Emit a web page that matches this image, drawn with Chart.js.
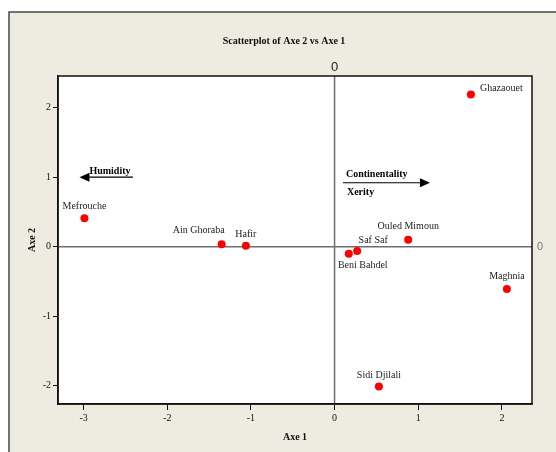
<!DOCTYPE html>
<html>
<head>
<meta charset="utf-8">
<script src="https://cdn.jsdelivr.net/npm/chart.js@4.4.1/dist/chart.umd.min.js"></script>
<style>
  html, body { margin: 0; padding: 0; background: #ffffff; }
  canvas { display: block; }
</style>
</head>
<body>
<canvas id="chart" width="556" height="452"></canvas>
<script>
// Station scores on the first two axes
const stations = ['Ghazaouet', 'Mefrouche', 'Ain Ghoraba', 'Hafir', 'Beni Bahdel',
                  'Saf Saf', 'Ouled Mimoun', 'Maghnia', 'Sidi Djilali'];
const axe1 = [1.63, -2.99, -1.35, -1.06, 0.17, 0.27, 0.88, 2.06, 0.53];
const axe2 = [2.19, 0.41, 0.035, 0.015, -0.10, -0.06, 0.10, -0.61, -2.01];

const xTicks = [-3, -2, -1, 0, 1, 2];
const yTicks = [-2, -1, 0, 1, 2];

// Gradient arrows: [label lines, x start, x end, y]
const gradients = [
  { lines: ['Humidity'], from: -2.41, to: -3.05, at: 1.0 },
  { lines: ['Continentality', 'Xerity'], from: 0.10, to: 1.14, at: 0.92 }
];

// Where each station name sits relative to its dot (pixels)
const labelPlacement = {
  'Ghazaouet':    { dx: 9,   dy: -6,  align: 'left' },
  'Mefrouche':    { dx: 0,   dy: -12, align: 'center' },
  'Ain Ghoraba':  { dx: 3,   dy: -14, align: 'right' },
  'Hafir':        { dx: 0,   dy: -11, align: 'center' },
  'Beni Bahdel':  { dx: 14,  dy: 12,  align: 'center' },
  'Saf Saf':      { dx: 16,  dy: -11, align: 'center' },
  'Ouled Mimoun': { dx: 0,   dy: -13, align: 'center' },
  'Maghnia':      { dx: 0,   dy: -13, align: 'center' },
  'Sidi Djilali': { dx: 0,   dy: -11, align: 'center' }
};

const SERIF = '"Liberation Serif", "Times New Roman", serif';
const SANS = '"Liberation Sans", Arial, sans-serif';

const decor = {
  id: 'decor',
  beforeDraw(chart) {
    const { ctx, chartArea: a } = chart;
    ctx.save();
    ctx.fillStyle = '#ffffff';
    ctx.fillRect(0, 0, chart.width, chart.height);
    // page frame
    ctx.fillStyle = '#eeebe1';
    ctx.fillRect(9, 12, chart.width, chart.height);
    ctx.strokeStyle = '#4a4a4a';
    ctx.lineWidth = 1.5;
    ctx.strokeRect(9, 12, chart.width + 10, chart.height + 10);
    // plot area
    ctx.fillStyle = '#ffffff';
    ctx.fillRect(a.left, a.top, a.right - a.left, a.bottom - a.top);
    // title
    ctx.fillStyle = '#111';
    ctx.font = 'bold 10px ' + SERIF;
    ctx.textAlign = 'center';
    ctx.textBaseline = 'middle';
    ctx.fillText('Scatterplot of Axe 2 vs Axe 1', 284, 41);
    ctx.restore();
  },
  beforeDatasetsDraw(chart) {
    const { ctx, chartArea: a, scales: { x, y } } = chart;
    const x0 = x.getPixelForValue(0);
    const y0 = y.getPixelForValue(0);
    ctx.save();
    // reference lines through the origin
    ctx.strokeStyle = '#6e6e6e';
    ctx.lineWidth = 1.5;
    ctx.beginPath();
    ctx.moveTo(x0, a.top); ctx.lineTo(x0, a.bottom);
    ctx.moveTo(a.left, y0); ctx.lineTo(a.right, y0);
    ctx.stroke();
    // plot border
    ctx.strokeStyle = '#111';
    ctx.lineWidth = 1.5;
    ctx.strokeRect(a.left, a.top, a.right - a.left, a.bottom - a.top);
    // reference line labels
    ctx.fillStyle = '#222';
    ctx.font = '13px ' + SANS;
    ctx.textAlign = 'center';
    ctx.textBaseline = 'middle';
    ctx.fillText('0', x0, a.top - 9);
    ctx.fillStyle = '#777';
    ctx.font = '11px ' + SANS;
    ctx.fillText('0', a.right + 8, y0);

    // gradient arrows
    ctx.strokeStyle = '#000';
    ctx.fillStyle = '#000';
    ctx.lineWidth = 1.2;
    gradients.forEach(g => {
      const xs = x.getPixelForValue(g.from);
      const xe = x.getPixelForValue(g.to);
      const yy = y.getPixelForValue(g.at);
      const dir = Math.sign(xe - xs);
      ctx.beginPath();
      ctx.moveTo(xs, yy);
      ctx.lineTo(xe - dir * 8, yy);
      ctx.stroke();
      ctx.beginPath();
      ctx.moveTo(xe, yy);
      ctx.lineTo(xe - dir * 10, yy - 4.5);
      ctx.lineTo(xe - dir * 10, yy + 4.5);
      ctx.closePath();
      ctx.fill();
      ctx.font = 'bold 10px ' + SERIF;
      ctx.textBaseline = 'middle';
      ctx.textAlign = 'left';
      if (dir < 0) {
        ctx.fillText(g.lines[0], xe + 10, yy - 6);
      } else {
        ctx.fillText(g.lines[0], xs + 3, yy - 8.5);
        if (g.lines[1]) ctx.fillText(g.lines[1], xs + 4, yy + 9.5);
      }
    });
    ctx.restore();
  },
  afterDatasetsDraw(chart) {
    const { ctx, scales: { x, y } } = chart;
    ctx.save();
    ctx.fillStyle = '#222';
    ctx.font = '10px ' + SERIF;
    ctx.textBaseline = 'middle';
    stations.forEach((name, i) => {
      const p = labelPlacement[name];
      const px = x.getPixelForValue(axe1[i]);
      const py = y.getPixelForValue(axe2[i]);
      ctx.textAlign = p.align;
      ctx.fillText(name, px + p.dx, py + p.dy);
    });
    ctx.restore();
  }
};

const tickFont = { family: SERIF, size: 10 };

new Chart(document.getElementById('chart'), {
  type: 'scatter',
  data: {
    datasets: [{
      data: stations.map((s, i) => ({ x: axe1[i], y: axe2[i] })),
      backgroundColor: '#ff0000',
      borderColor: '#ff0000',
      borderWidth: 0,
      pointRadius: 4,
      pointHoverRadius: 4
    }]
  },
  options: {
    responsive: false,
    animation: false,
    devicePixelRatio: 1,
    layout: { padding: { top: 76, right: 24, left: 0, bottom: 0 } },
    plugins: {
      legend: { display: false },
      title: { display: false },
      tooltip: { enabled: false }
    },
    scales: {
      x: {
        type: 'linear',
        position: 'bottom',
        min: -3.306,
        max: 2.36,
        afterFit: s => { s.height = 48; },
        afterBuildTicks: s => { s.ticks = xTicks.map(v => ({ value: v })); },
        ticks: { font: tickFont, color: '#111', padding: 2, maxRotation: 0, autoSkip: false },
        grid: { drawOnChartArea: false, drawTicks: true, tickLength: 6, color: '#111', lineWidth: 1 },
        border: { display: true, color: '#111', width: 1.5 },
        title: { display: true, text: 'Axe 1', color: '#111',
                 font: { family: SERIF, size: 10, weight: 'bold' }, padding: { top: 0, bottom: 9 } }
      },
      y: {
        type: 'linear',
        position: 'left',
        min: -2.263,
        max: 2.456,
        afterFit: s => { s.width = 58; },
        afterBuildTicks: s => { s.ticks = yTicks.map(v => ({ value: v })); },
        ticks: { font: tickFont, color: '#111', padding: 2, autoSkip: false },
        grid: { drawOnChartArea: false, drawTicks: true, tickLength: 5, color: '#111', lineWidth: 1 },
        border: { display: true, color: '#111', width: 1.5 },
        title: { display: true, text: 'Axe 2', color: '#111',
                 font: { family: SERIF, size: 10, weight: 'bold' }, padding: { top: 26, bottom: 0 } }
      }
    }
  },
  plugins: [decor]
});
</script>
</body>
</html>
